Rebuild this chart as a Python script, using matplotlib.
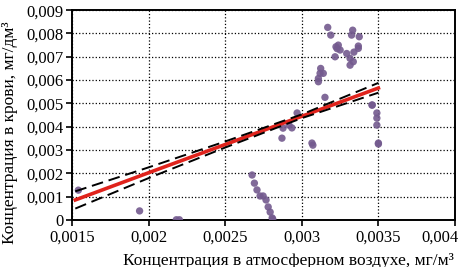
import numpy as np
import matplotlib
matplotlib.use('Agg')
import matplotlib.pyplot as plt
import matplotlib.transforms as mtrans

# Data
x_pts = [0.00154, 0.00194, 0.00218, 0.00220,
         0.002675, 0.00269, 0.002707, 0.002727, 0.002747, 0.002766, 0.00278, 0.002793, 0.002806, 0.00281,
         0.002877, 0.00287, 0.002916, 0.002935, 0.002969, 0.003066, 0.003072,
         0.003458, 0.00349, 0.00349, 0.0035, 0.0035, 0.00349, 0.00346,
         0.003169, 0.003189, 0.003332, 0.003325, 0.003375, 0.003238, 0.003223, 0.00325,
         0.003217, 0.003293, 0.003315, 0.003336, 0.003315, 0.003369, 0.003369,
         0.003123, 0.003119, 0.003108, 0.003108, 0.00314, 0.003151, 0.00323, 0.00334]
y_pts = [0.00128, 0.00039, 0.00001, 0.00001,
         0.00193, 0.00158, 0.00129, 0.00103, 0.00103, 0.00086, 0.00056, 0.00034, 0.00009, 0.00004,
         0.00394, 0.00351, 0.00407, 0.00395, 0.00459, 0.00330, 0.00321,
         0.00493, 0.00407, 0.00437, 0.00330, 0.00326, 0.00459, 0.00493,
         0.00826, 0.00793, 0.00814, 0.00793, 0.00786, 0.00750, 0.00743, 0.00729,
         0.00700, 0.00714, 0.00693, 0.00679, 0.00664, 0.00746, 0.00736,
         0.00650, 0.00629, 0.00607, 0.00593, 0.00629, 0.00526, 0.00735, 0.00720]

# regression line and confidence band, read at a few x positions
line_x = [0.00152, 0.002, 0.0025, 0.003, 0.0035]
fit_y = [0.00086, 0.00203, 0.00324, 0.00445, 0.00566]
upper_y = [0.00123, 0.00226, 0.00337, 0.00453, 0.00588]
lower_y = [0.00049, 0.00180, 0.00311, 0.00437, 0.00546]

xticks = [0.0015, 0.002, 0.0025, 0.003, 0.0035, 0.004]
xtick_labels = ['0,0015', '0,002', '0,0025', '0,003', '0,0035', '0,004']
yticks = [0, 0.001, 0.002, 0.003, 0.004, 0.005, 0.006, 0.007, 0.008, 0.009]
ytick_labels = ['0', '0,001', '0,002', '0,003', '0,004', '0,005', '0,006', '0,007', '0,008', '0,009']

plt.rcParams['font.family'] = ['Liberation Serif', 'DejaVu Serif']

fig, ax = plt.subplots(figsize=(4.6, 2.67), dpi=100)
fig.subplots_adjust(left=0.157, right=0.989, top=0.962, bottom=0.176)

ax.scatter(x_pts, y_pts, s=28, color='#735a8e', alpha=0.9, edgecolors='none', zorder=3)
ax.plot(line_x, fit_y, color='#e0231c', lw=2.6, zorder=4)
ax.plot(line_x, upper_y, color='black', lw=1.4, ls=(0, (6, 3)), zorder=5)
ax.plot(line_x, lower_y, color='black', lw=1.4, ls=(0, (6, 3)), zorder=5)

ax.set_xlim(0.0015, 0.004)
ax.set_ylim(0, 0.009)
ax.set_xticks(xticks)
ax.set_xticklabels(xtick_labels)
ax.set_yticks(yticks)
ax.set_yticklabels(ytick_labels)
ax.tick_params(labelsize=12, direction='out', length=4, width=1.2, pad=2)
ax.tick_params(axis='x', pad=3)
ax.grid(True, ls=':', color='black', lw=0.9)
for s in ax.spines.values():
    s.set_linewidth(1.4)

# last x label sits inside the figure edge
last = ax.get_xticklabels()[-1]
last.set_horizontalalignment('right')
last.set_transform(last.get_transform() + mtrans.ScaledTranslation(0.04, 0, fig.dpi_scale_trans))

ax.set_xlabel('Концентрация в атмосферном воздухе, мг/м³', fontsize=12.5)
ax.set_ylabel('Концентрация в крови, мг/дм³', fontsize=12.5)
ax.xaxis.set_label_coords(0.565, -0.155)
ax.yaxis.set_label_coords(-0.142, 0.415)

plt.savefig('out.png', dpi=100)
